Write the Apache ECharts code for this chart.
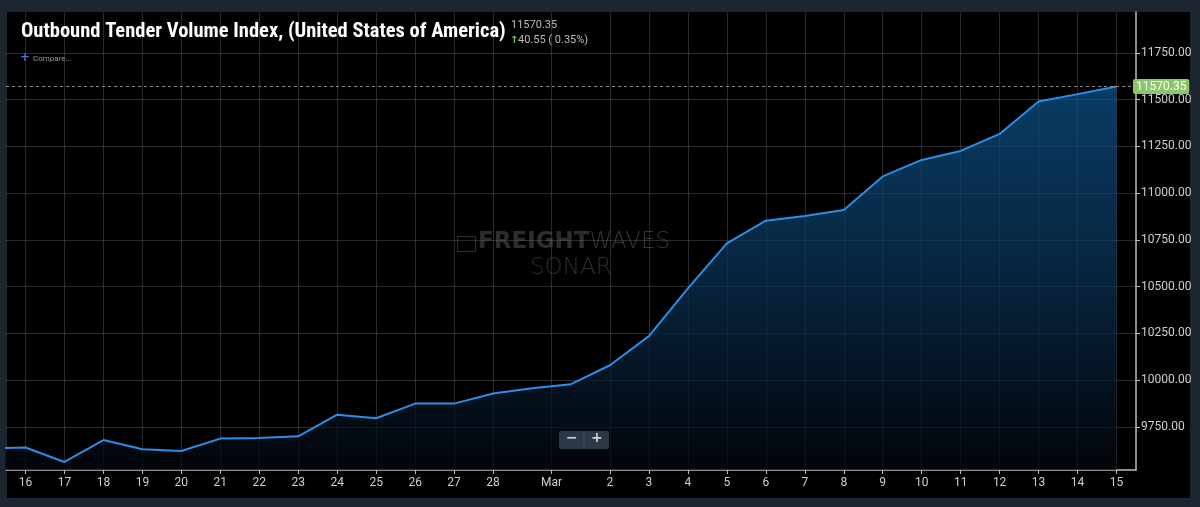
<!DOCTYPE html>
<html><head><meta charset="utf-8">
<script src="https://cdn.jsdelivr.net/npm/echarts@6/dist/echarts.min.js"></script>
<style>
html,body{margin:0;padding:0;background:#1b2631;width:1200px;height:507px;overflow:hidden;}
#panel{position:absolute;left:7px;top:12px;width:1183px;height:486px;background:#000;}
#chart{position:absolute;left:0;top:0;width:1200px;height:507px;}
</style></head><body>
<div id="panel"></div><div id="chart"></div>
<script>
const titleText = 'Outbound Tender Volume Index, (United States of America)';
const lastValue = 11570.35;
const changeText = '40.55 ( 0.35%)';
const compareText = 'Compare...';
const prevDate = '2020-02-15';
const prevValue = 9636;
const dates = ['2020-02-16','2020-02-17','2020-02-18','2020-02-19','2020-02-20','2020-02-21','2020-02-22',
  '2020-02-23','2020-02-24','2020-02-25','2020-02-26','2020-02-27','2020-02-28','2020-02-29',
  '2020-03-01','2020-03-02','2020-03-03','2020-03-04','2020-03-05','2020-03-06','2020-03-07',
  '2020-03-08','2020-03-09','2020-03-10','2020-03-11','2020-03-12','2020-03-13','2020-03-14','2020-03-15'];
const values = [9640, 9563, 9680, 9631, 9622, 9688, 9691,
  9700, 9816, 9797, 9875, 9875, 9929, 9957,
  9979, 10080, 10236, 10491, 10732, 10853, 10878,
  10910, 11090, 11178, 11226, 11317, 11490, 11529.80, 11570.35];
const yTicks = [9750, 10000, 10250, 10500, 10750, 11000, 11250, 11500, 11750];
const monthNames = ['Jan','Feb','Mar','Apr','May','Jun','Jul','Aug','Sep','Oct','Nov','Dec'];

// half-day slots so the month label can sit between two days
const allDates = [prevDate].concat(dates);
const allValues = [prevValue].concat(values);
const cats = [], labelOf = {};
allDates.forEach((d, i) => {
  const dt = new Date(d + 'T00:00:00');
  const nx = i + 1 < allDates.length ? new Date(allDates[i + 1] + 'T00:00:00') : null;
  const pv = i > 0 ? new Date(allDates[i - 1] + 'T00:00:00') : null;
  const monthEnd = nx && nx.getMonth() !== dt.getMonth();
  const monthStart = pv && pv.getMonth() !== dt.getMonth();
  cats.push(d); labelOf[d] = (monthEnd || monthStart) ? '' : String(dt.getDate());
  const h = d + ' 12:00';
  cats.push(h); labelOf[h] = monthEnd ? monthNames[nx.getMonth()] : '';
});
const seriesData = allValues.map((v, k) => [2 * k, v]);
const showIdx = (idx) => labelOf[cats[idx]] !== '';

const chart = echarts.init(document.getElementById('chart'));
const gridColor = 'rgba(255,255,255,0.16)';
chart.setOption({
  backgroundColor: 'transparent',
  animation: false,
  grid: { left: 6, right: 64, top: 12, bottom: 37 },
  xAxis: {
    type: 'category', data: cats, boundaryGap: false, min: 1, max: cats.length - 1,
    axisLine: { lineStyle: { color: '#bdbdbd', width: 1.5 } },
    axisTick: { show: true, interval: showIdx, length: 4, lineStyle: { color: '#bdbdbd' } },
    axisLabel: { interval: showIdx, formatter: (v) => labelOf[v], color: '#cfcfcf', fontSize: 12,
      fontFamily: 'Roboto', margin: 7 },
    splitLine: { show: true, interval: showIdx, lineStyle: { color: gridColor, width: 1 } }
  },
  yAxis: {
    type: 'value', position: 'right', min: 9520, max: 11969, scale: true,
    axisLine: { show: true, lineStyle: { color: '#bdbdbd', width: 1.5 } },
    axisTick: { show: true, length: 4, customValues: yTicks, lineStyle: { color: '#bdbdbd' } },
    axisLabel: { customValues: yTicks, formatter: (v) => v.toFixed(2), color: '#cfcfcf', fontSize: 12,
      fontFamily: 'Roboto', margin: 5 },
    splitLine: { show: true, lineStyle: { color: gridColor, width: 1 } }
  },
  series: [{
    type: 'line', data: seriesData, symbol: 'none', clip: true,
    lineStyle: { color: '#2a8fe8', width: 2 },
    areaStyle: {
      color: new echarts.graphic.LinearGradient(0, 0, 0, 1, [
        { offset: 0, color: '#0d558f' },
        { offset: 0.5, color: '#0a3356' },
        { offset: 1, color: '#03070d' }
      ])
    },
    markLine: {
      silent: true, symbol: 'none',
      lineStyle: { color: '#8a8a8a', type: [3, 3], width: 1 },
      label: { position: 'end', distance: -3, formatter: () => lastValue.toFixed(2),
        backgroundColor: '#8cc66b', color: '#ffffff', fontSize: 12, fontFamily: 'Roboto',
        padding: [2, 3, 1, 3], borderRadius: 2 },
      data: [{ yAxis: lastValue }]
    }
  }],
  graphic: [
    { type: 'text', left: 21, top: 21, z: 100, style: { text: titleText, fill: '#ffffff',
      fontSize: 20.5, fontWeight: 'bold',
      fontFamily: '"Liberation Sans Narrow", "Roboto Condensed", "DejaVu Sans Condensed", Roboto' } },
    { type: 'text', left: 511, top: 20, z: 100, style: { text: lastValue.toFixed(2), fill: '#bdbdbd',
      fontSize: 11, fontFamily: 'Roboto' } },
    { type: 'text', left: 510, top: 35, z: 100, style: { text: '↑', fill: '#7cc35a',
      fontSize: 10, fontWeight: 'bold', fontFamily: 'DejaVu Sans' } },
    { type: 'text', left: 518, top: 35, z: 100, style: { text: changeText, fill: '#bdbdbd',
      fontSize: 11, fontFamily: 'Roboto' } },
    { type: 'text', left: 20, top: 52, z: 100, style: { text: '+', fill: '#4f74d8',
      fontSize: 12, fontWeight: 'bold', fontFamily: 'DejaVu Sans' } },
    { type: 'text', left: 33, top: 55, z: 100, style: { text: compareText, fill: '#9a9a9a',
      fontSize: 8, fontFamily: 'Roboto' } },
    // watermark
    { type: 'text', left: 478, top: 231, z: 100, style: {
      text: '{a|FREIGHT}{b|WAVES}',
      rich: {
        a: { fill: 'rgba(100,100,100,0.45)', fontSize: 23, fontWeight: 'bold', fontFamily: 'DejaVu Sans' },
        b: { fill: 'rgba(115,115,115,0.45)', fontSize: 23, fontWeight: 200, fontFamily: 'DejaVu Sans' }
      } } },
    { type: 'rect', left: 455, top: 234, z: 100, shape: { width: 18, height: 15 },
      style: { fill: 'none', stroke: 'rgba(100,100,100,0.45)', lineWidth: 1 } },
    { type: 'text', left: 530, top: 257, z: 100, style: { text: 'SONAR', fill: 'rgba(100,100,100,0.45)',
      fontSize: 23, fontWeight: 200, fontFamily: 'DejaVu Sans' } },
    // zoom buttons
    { type: 'rect', left: 559, top: 431, z: 100, shape: { width: 50, height: 18, r: 2 },
      style: { fill: '#2a3945' } },
    { type: 'line', z: 101, shape: { x1: 584, y1: 433, x2: 584, y2: 447 },
      style: { stroke: '#44535f', lineWidth: 1 } },
    { type: 'text', left: 566, top: 431, z: 101, style: { text: '−', fill: '#d0d0d0', fontSize: 14,
      fontWeight: 'bold', fontFamily: 'DejaVu Sans' } },
    { type: 'text', left: 591, top: 431, z: 101, style: { text: '+', fill: '#d0d0d0', fontSize: 14,
      fontWeight: 'bold', fontFamily: 'DejaVu Sans' } }
  ]
});
</script></body></html>
